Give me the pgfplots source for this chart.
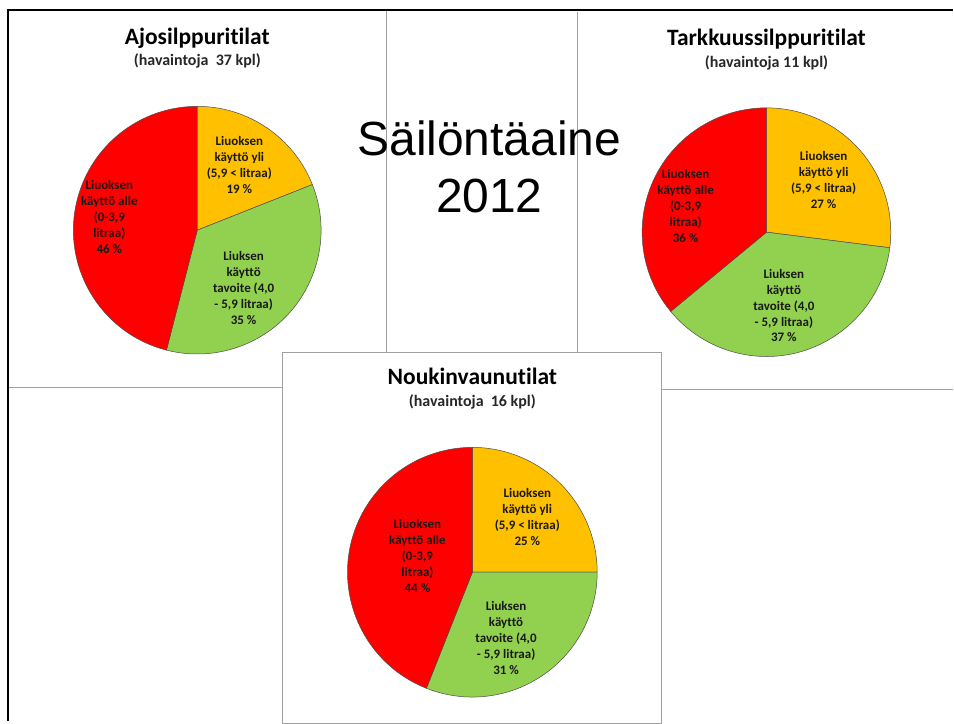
\documentclass[border=0pt]{standalone}
\usepackage{fontspec}
\setmainfont{Carlito}[Ligatures={NoCommon}]
\newfontfamily\arial{Liberation Sans}
\usepackage{pgfplots}
\pgfplotsset{compat=1.18}
\definecolor{cred}{HTML}{FF0000}
\definecolor{cyel}{HTML}{FFC000}
\definecolor{cgrn}{HTML}{92D050}
\definecolor{frame}{HTML}{A0A0A0}
% pie: #1 radius(pt), #2 yellow %, #3 green %, #4 red %
\newcommand{\pieslices}[4]{%
  \pgfmathsetmacro{\aA}{90-3.6*#2}%
  \pgfmathsetmacro{\aB}{\aA-3.6*#3}%
  \pgfmathsetmacro{\aC}{\aB-3.6*#4}%
  \filldraw[fill=cyel,draw=black!70,line width=0.5pt] (axis cs:0,0) -- ++(90:#1pt) arc[start angle=90,end angle=\aA,radius=#1pt] -- cycle;
  \filldraw[fill=cgrn,draw=black!70,line width=0.5pt] (axis cs:0,0) -- ++(\aA:#1pt) arc[start angle=\aA,end angle=\aB,radius=#1pt] -- cycle;
  \filldraw[fill=cred,draw=black!70,line width=0.5pt] (axis cs:0,0) -- ++(\aB:#1pt) arc[start angle=\aB,end angle=\aC,radius=#1pt] -- cycle;
}
\tikzset{lab/.style={align=center,font=\bfseries\fontsize{13}{16}\selectfont,text=black!90},
  ttl/.style={anchor=base,font=\bfseries\fontsize{23.5}{26}\selectfont},
  sub/.style={anchor=base,font=\bfseries\fontsize{16}{18}\selectfont,text=black!85}}
\pgfplotsset{pieax/.style={scale only axis,anchor=origin,xmin=-1,xmax=1,ymin=-1,ymax=1,hide axis,clip=false}}
\begin{document}
\begin{tikzpicture}
\fill[white] (0,0) rectangle (954pt,722pt);
% frames
\draw[frame,line width=0.8pt] (387pt,712pt) -- (387pt,370pt);
\draw[frame,line width=0.8pt] (8pt,334pt) -- (283pt,334pt);
\draw[frame,line width=0.8pt] (578pt,710pt) -- (578pt,370pt);
\draw[frame,line width=0.8pt] (662pt,332pt) -- (954pt,332pt);
\filldraw[fill=white,draw=frame,line width=0.8pt] (283pt,-2pt) rectangle (662pt,369pt);
\draw[black,line width=2.6pt] (8pt,0pt) -- (8pt,712pt) -- (954pt,712pt);
% big title
\node[font=\arial\fontsize{48}{57}\selectfont,align=center] at (490pt,555pt) {Säilöntäaine\\2012};

% pie 1
\begin{axis}[pieax,at={(197.5pt,491.5pt)},width=248pt,height=248pt]
\pieslices{124}{19}{35}{46}
\node[lab] at (axis cs:0.34,0.53) {Liuoksen\\käyttö yli\\(5,9 < litraa)\\19 \%};
\node[lab] at (axis cs:0.375,-0.47) {Liuksen\\käyttö\\tavoite (4,0\\- 5,9 litraa)\\35 \%};
\node[lab] at (axis cs:-0.71,0.11) {Liuoksen\\käyttö alle\\(0-3,9\\litraa)\\46 \%};
\node[ttl] at (axis cs:0,1.5) {Ajosilppuritilat};
\node[sub] at (axis cs:0,1.327) {(havaintoja\ \ 37 kpl)};
\end{axis}

% pie 2
\begin{axis}[pieax,at={(767.5pt,489.5pt)},width=249pt,height=249pt]
\pieslices{124.5}{27}{37}{36}
\node[lab] at (axis cs:0.46,0.42) {Liuoksen\\käyttö yli\\(5,9 < litraa)\\27 \%};
\node[lab] at (axis cs:0.14,-0.59) {Liuksen\\käyttö\\tavoite (4,0\\- 5,9 litraa)\\37 \%};
\node[lab] at (axis cs:-0.65,0.21) {Liuoksen\\käyttö alle\\(0-3,9\\litraa)\\36 \%};
\node[ttl] at (axis cs:0,1.5) {Tarkkuussilppuritilat};
\node[sub] at (axis cs:0,1.324) {(havaintoja 11 kpl)};
\end{axis}

% pie 3
\begin{axis}[pieax,at={(473pt,149pt)},width=250pt,height=250pt]
\pieslices{125}{25}{31}{44}
\node[lab] at (axis cs:0.44,0.44) {Liuoksen\\käyttö yli\\(5,9 < litraa)\\25 \%};
\node[lab] at (axis cs:0.27,-0.53) {Liuksen\\käyttö\\tavoite (4,0\\- 5,9 litraa)\\31 \%};
\node[lab] at (axis cs:-0.44,0.13) {Liuoksen\\käyttö alle\\(0-3,9\\litraa)\\44 \%};
\node[ttl] at (axis cs:0,1.504) {Noukinvaunutilat};
\node[sub] at (axis cs:0,1.33) {(havaintoja\ \ 16 kpl)};
\end{axis}
\end{tikzpicture}
\end{document}
